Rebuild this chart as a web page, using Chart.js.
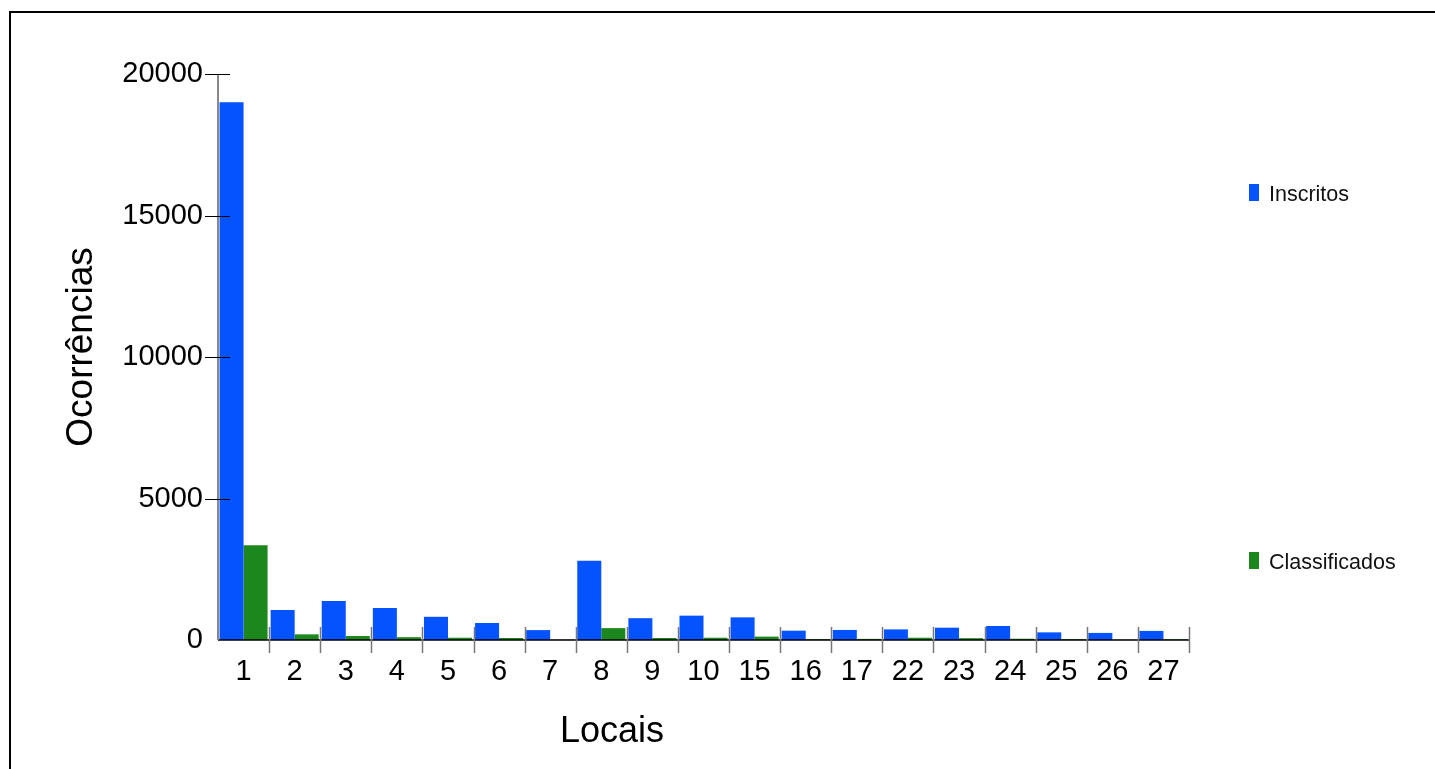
<!DOCTYPE html>
<html>
<head>
<meta charset="utf-8">
<script src="https://cdn.jsdelivr.net/npm/chart.js@4"></script>
<style>
	html, body { margin: 0; padding: 0; background: #fff; overflow: hidden; }
	#frame { position: absolute; left: 9px; top: 11px; width: 1440px; height: 800px; border-left: 2px solid #000; border-top: 2px solid #000; }
	#wrap { position: absolute; left: 0; top: 0; width: 1435px; height: 769px; }
</style>
</head>
<body>
<div id="frame"></div>
<div id="wrap"><canvas id="chart_canvas"></canvas></div>
<script>
const locais = ['1', '2', '3', '4', '5', '6', '7', '8', '9', '10', '15', '16', '17', '22', '23', '24', '25', '26', '27'];
const inscritos = [19000, 1060, 1380, 1130, 820, 600, 350, 2800, 770, 860, 800, 330, 355, 375, 435, 495, 270, 250, 320];
const classificados = [3350, 200, 140, 100, 80, 70, 10, 420, 70, 80, 120, 30, 40, 80, 65, 45, 30, 10, 25];
const y_ticks = [0, 5000, 10000, 15000, 20000];

const font_family = '"Liberation Sans", Arial, sans-serif';

// ticks that cross the axes, axis titles and the legend on the right
const decorations = {
	id: 'decorations',
	afterDatasetsDraw(chart) {
		const c = chart.ctx;
		const x = chart.scales.x;
		const y = chart.scales.y;
		const area = chart.chartArea;
		c.save();

		// x axis line
		c.strokeStyle = '#000';
		c.lineWidth = 1.5;
		c.beginPath();
		c.moveTo(area.left, area.bottom);
		c.lineTo(area.right, area.bottom);
		c.stroke();

		// y axis line
		c.strokeStyle = '#888';
		c.lineWidth = 2;
		c.beginPath();
		c.moveTo(area.left, area.top);
		c.lineTo(area.left, area.bottom);
		c.stroke();

		// x ticks between categories
		const step = (area.right - area.left) / locais.length;
		c.strokeStyle = '#777';
		c.lineWidth = 1.5;
		for (let i = 0; i < locais.length; i++) {
			const px = Math.round(x.getPixelForValue(i) + step / 2) + 0.5;
			c.beginPath();
			c.moveTo(px, area.bottom - 13);
			c.lineTo(px, area.bottom + 13);
			c.stroke();
		}

		// y ticks
		c.strokeStyle = '#000';
		c.lineWidth = 1;
		y_ticks.forEach(v => {
			if (v === 0) return;
			const py = Math.round(y.getPixelForValue(v)) + 0.5;
			c.beginPath();
			c.moveTo(area.left - 13, py);
			c.lineTo(area.left + 12, py);
			c.stroke();
		});

		// axis titles
		c.fillStyle = '#000';
		c.textAlign = 'center';
		c.textBaseline = 'middle';
		c.font = '36px ' + font_family;
		c.fillText('Locais', 612, 732);
		c.font = '37px ' + font_family;
		c.translate(82, 347);
		c.rotate(-Math.PI / 2);
		c.fillText('Ocorrências', 0, 0);
		c.restore();

		// legend
		c.save();
		const legend_y = [195, 563];
		c.font = '21.5px ' + font_family;
		c.textAlign = 'left';
		c.textBaseline = 'middle';
		chart.data.datasets.forEach((ds, i) => {
			c.fillStyle = ds.backgroundColor;
			c.fillRect(1249, legend_y[i] - 11, 10, 17);
			c.fillStyle = '#111';
			c.fillText(ds.label, 1269, legend_y[i]);
		});
		c.restore();
	}
};

const ctx = document.getElementById('chart_canvas').getContext('2d');
const count_chart = new Chart(ctx, {
	type: 'bar',
	data: {
		labels: locais,
		datasets: [{
			label: 'Inscritos',
			backgroundColor: '#0552ff',
			data: inscritos
		}, {
			label: 'Classificados',
			backgroundColor: '#1c871c',
			data: classificados
		}]
	},
	options: {
		responsive: true,
		maintainAspectRatio: false,
		animation: false,
		layout: { padding: { left: 0, top: 74, right: 246, bottom: 0 } },
		plugins: {
			legend: { display: false },
			tooltip: { enabled: false }
		},
		datasets: {
			bar: { barPercentage: 1, categoryPercentage: 0.94 }
		},
		scales: {
			x: {
				grid: { display: false, drawTicks: false },
				border: { display: false },
				ticks: {
					color: '#000',
					padding: 15,
					maxRotation: 0,
					autoSkip: false,
					font: { size: 29, family: font_family }
				},
				afterFit(scale) { scale.height = 129; }
			},
			y: {
				min: 0,
				max: 20000,
				grid: { display: false, drawTicks: false },
				border: { display: false },
				afterBuildTicks(scale) { scale.ticks = y_ticks.map(v => ({ value: v })); },
				ticks: {
					color: '#000',
					padding: 15,
					callback: v => String(v),
					font: { size: 29, family: font_family }
				},
				afterFit(scale) { scale.width = 218; }
			}
		}
	},
	plugins: [decorations]
});
</script>
</body>
</html>
